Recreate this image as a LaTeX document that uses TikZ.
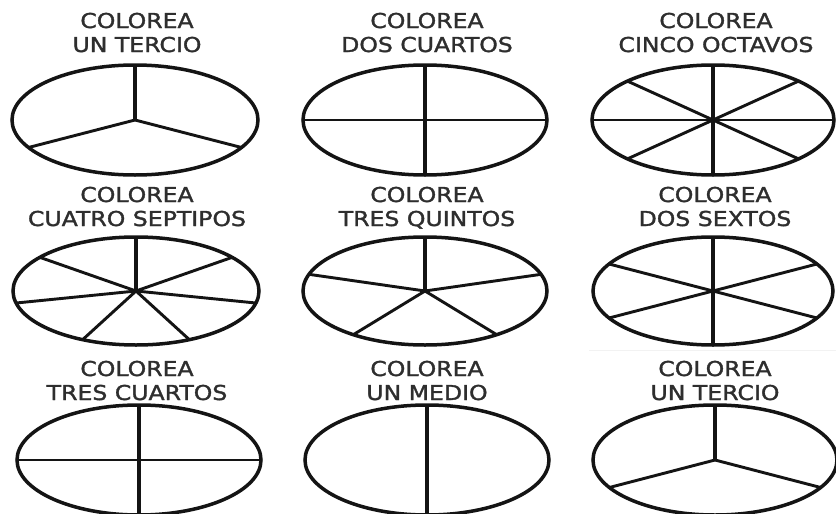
\documentclass[tikz,border=0pt]{standalone}
\usepackage{fontspec}
\newfontfamily\lblfont[FakeStretch=1.15,FakeBold=1.6]{DejaVu Sans}
\newcommand\drawpie[7]{%
  \coordinate (#1) at (#2,#3);
  \draw[rim] (#1) ellipse [x radius=#4, y radius=#5];
  \foreach \a in {#6} {\draw[vspoke] (#1) -- ++({#4*sin(\a)},{-#5*cos(\a)});}
  \foreach \a in {#7} {\draw[spoke] (#1) -- ++({#4*sin(\a)},{-#5*cos(\a)});}
}
\begin{document}
\begin{tikzpicture}[x=1pt,y=-1pt,
  rim/.style={line width=3.5pt, draw=black!92},
  vspoke/.style={line width=4.2pt, draw=black!92},
  spoke/.style={line width=2.9pt, draw=black!92},
  lbl/.style={font=\lblfont\fontsize{20.5}{24}\selectfont, text=black!82, inner sep=0pt, anchor=base}]
\useasboundingbox (0,0) rectangle (836,514);
\fill[white] (0,0) rectangle (836,514);
\clip (0,0) rectangle (836,514);
% faint scan line
\draw[line width=1pt, black!5] (589,350) -- (836,350);
% labels row 1
\node[lbl] (l11a) at (137,28) {COLOREA};
\node[lbl] (l11b) at (137,52) {UN TERCIO};
\node[lbl] (l12a) at (427,28) {COLOREA};
\node[lbl] (l12b) at (427,52) {DOS CUARTOS};
\node[lbl] (l13a) at (716,28) {COLOREA};
\node[lbl] (l13b) at (716,52) {CINCO OCTAVOS};
% labels row 2
\node[lbl] (l21a) at (137,202) {COLOREA};
\node[lbl] (l21b) at (137,226) {CUATRO SEPTIPOS};
\node[lbl] (l22a) at (427,202) {COLOREA};
\node[lbl] (l22b) at (427,226) {TRES QUINTOS};
\node[lbl] (l23a) at (715,202) {COLOREA};
\node[lbl] (l23b) at (715,226) {DOS SEXTOS};
% labels row 3
\node[lbl] (l31a) at (137,376) {COLOREA};
\node[lbl] (l31b) at (137,400) {TRES CUARTOS};
\node[lbl] (l32a) at (427,376) {COLOREA};
\node[lbl] (l32b) at (427,400) {UN MEDIO};
\node[lbl] (l33a) at (715,376) {COLOREA};
\node[lbl] (l33b) at (715,400) {UN TERCIO};
% pies row 1
\drawpie{p11}{135}{120}{123}{55}{0}{120,240}
\drawpie{p12}{425}{120}{122}{55}{0,180}{90,270}
\drawpie{p13}{713}{120}{121}{55}{0,180}{45,90,135,225,270,315}
% pies row 2
\drawpie{p21}{136}{291}{123}{54}{0}{51.43,102.86,154.29,205.71,257.14,308.57}
\drawpie{p22}{425}{291}{122}{54}{0}{72,144,216,288}
\drawpie{p23}{713}{291}{120}{54}{0,180}{60,120,240,300}
% pies row 3
\drawpie{p31}{139}{460}{122}{55}{0,180}{90,270}
\coordinate (p32) at (427,460);
\draw[rim] (p32) ellipse [x radius=122, y radius=55];
\draw[vspoke] (p32) -- ++(0,-55);
\draw[vspoke] (p32) -- ++(0,55);
\drawpie{p33}{715}{460}{122}{55}{0}{120,240}
\end{tikzpicture}
\end{document}
